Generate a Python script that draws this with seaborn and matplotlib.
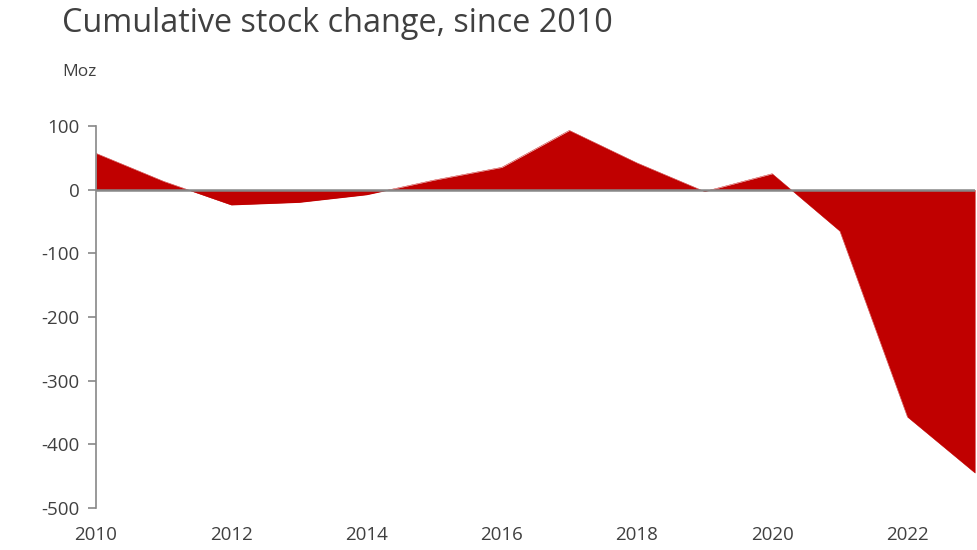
import matplotlib
matplotlib.use("Agg")
import matplotlib.pyplot as plt
import seaborn as sns
import pandas as pd

years = [2010, 2011, 2012, 2013, 2014, 2015, 2016, 2017, 2018, 2019, 2020, 2021, 2022, 2023]
stock_change = [57, 13, -24, -20, -8, 15, 35, 93, 42, -3, 25, -65, -357, -445]
x_ticks = [2010, 2012, 2014, 2016, 2018, 2020, 2022]
y_ticks = [100, 0, -100, -200, -300, -400, -500]

RED = "#C00000"
TEXT = "#404040"
GREY = "#878787"


def main():
    df = pd.DataFrame({"year": years, "change": stock_change})
    sns.set_style("white")
    plt.rcParams["font.family"] = ["Open Sans", "DejaVu Sans"]
    plt.rcParams["axes.unicode_minus"] = False

    fig = plt.figure(figsize=(9.77, 5.5), dpi=100)
    ax = fig.add_axes([0.0983, 0.0764, 0.8997, 0.6946])

    sns.lineplot(data=df, x="year", y="change", ax=ax, color=RED, linewidth=0.3)
    ax.fill_between(df["year"], df["change"], 0, color=RED, linewidth=0)
    ax.axhline(0, color=GREY, linewidth=1.8, zorder=3)

    ax.set_xlim(2010, 2023)
    ax.set_ylim(-500, 100)
    ax.set_xticks(x_ticks)
    ax.set_yticks(y_ticks)
    ax.yaxis.set_major_formatter(lambda y, _: f"{y:.0f}")
    ax.tick_params(axis="x", length=0, pad=13, labelsize=13.5, colors=TEXT)
    ax.tick_params(axis="y", length=6, width=1.2, color=GREY, pad=6,
                   labelsize=13.5, labelcolor=TEXT, left=True)
    ax.set_xlabel("")
    ax.set_ylabel("")

    for side in ["top", "right", "bottom"]:
        ax.spines[side].set_visible(False)
    ax.spines["left"].set_color(GREY)
    ax.spines["left"].set_linewidth(1.2)

    fig.text(0.0635, 0.958, "Cumulative stock change, since 2010", fontsize=23.3,
             color=TEXT, va="center", ha="left")
    fig.text(0.0635, 0.869, "Moz", fontsize=12.5, color=TEXT, va="center", ha="left")

    fig.savefig("out.png", dpi=100)


if __name__ == "__main__":
    main()
